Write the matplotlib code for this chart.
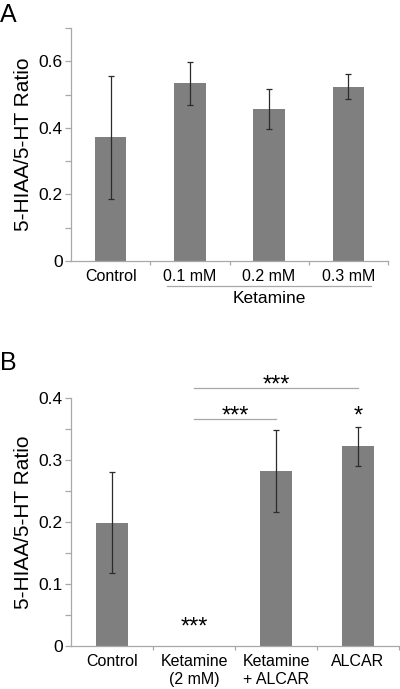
import numpy as np
import matplotlib as mpl
mpl.use('Agg')
import matplotlib.pyplot as plt
from matplotlib.ticker import FixedLocator, FuncFormatter

mpl.rcParams['font.family'] = ['Liberation Sans', 'DejaVu Sans']
mpl.rcParams['text.color'] = 'black'

# panel A data
a_labels = ['Control', '0.1 mM', '0.2 mM', '0.3 mM']
a_means = [0.372, 0.534, 0.457, 0.524]
a_errs = [0.185, 0.065, 0.059, 0.038]

# panel B data
b_labels = ['Control', 'Ketamine\n(2 mM)', 'Ketamine\n+ ALCAR', 'ALCAR']
b_means = [0.199, 0.0, 0.282, 0.322]
b_errs = [0.081, 0.0, 0.066, 0.031]

BAR = '#7f7f7f'
SPINE = '#a8a8a8'
ERR = '#2b2b2b'


def style_axes(ax):
    for s in ['top', 'right']:
        ax.spines[s].set_visible(False)
    for s in ['left', 'bottom']:
        ax.spines[s].set_color(SPINE)
        ax.spines[s].set_linewidth(0.9)
    ax.tick_params(axis='y', which='both', direction='out', length=4,
                   width=0.9, color=SPINE, labelsize=12.5, pad=2)
    ax.tick_params(axis='x', which='major', length=0, labelsize=11.5, pad=6)
    ax.tick_params(axis='x', which='minor', direction='out', length=3,
                   width=0.9, color=SPINE)
    ax.yaxis.set_major_formatter(FuncFormatter(
        lambda v, p: '0' if v == 0 else '%.1f' % v))


def draw_bars(ax, labels, means, errs):
    x = np.arange(len(labels))
    ax.bar(x, means, width=0.4, color=BAR, zorder=2)
    for xi, m, e in zip(x, means, errs):
        if e > 0:
            ax.errorbar(xi, m, yerr=e, fmt='none', ecolor=ERR,
                        elinewidth=0.9, capsize=2.5, capthick=0.9, zorder=3)
    ax.set_xticks(x)
    ax.set_xticklabels(labels)
    ax.xaxis.set_minor_locator(FixedLocator(np.arange(len(labels)) + 0.5))
    ax.set_xlim(-0.5, len(labels) - 0.5)


fig = plt.figure(figsize=(4.0, 6.89), dpi=100)

# ---- panel A
axA = fig.add_axes([0.1775, 0.6212, 0.7925, 0.3382])
draw_bars(axA, a_labels, a_means, a_errs)
axA.set_ylim(0, 0.7)
axA.yaxis.set_major_locator(FixedLocator([0, 0.2, 0.4, 0.6]))
axA.yaxis.set_minor_locator(FixedLocator([0.1, 0.3, 0.5, 0.7]))
style_axes(axA)
axA.set_ylabel('5-HIAA/5-HT Ratio', fontsize=15, labelpad=4)

trA = mpl.transforms.blended_transform_factory(axA.transData, axA.transAxes)
axA.plot([0.71, 3.29], [-0.107, -0.107], color=SPINE, lw=0.9,
         transform=trA, clip_on=False)
axA.text(2.0, -0.16, 'Ketamine', transform=trA, ha='center', va='center',
         fontsize=12.5)
fig.text(0.0, 0.978, 'A', fontsize=18, ha='left', va='center')

# ---- panel B
axB = fig.add_axes([0.1775, 0.0624, 0.82, 0.36])
draw_bars(axB, b_labels, b_means, b_errs)
axB.set_ylim(0, 0.4)
axB.yaxis.set_major_locator(FixedLocator([0, 0.1, 0.2, 0.3, 0.4]))
axB.yaxis.set_minor_locator(FixedLocator([0.05, 0.15, 0.25, 0.35]))
style_axes(axB)
axB.set_ylabel('5-HIAA/5-HT Ratio', fontsize=15, labelpad=4)

# significance brackets
axB.plot([1, 2], [0.366, 0.366], color=SPINE, lw=0.9, clip_on=False)
axB.plot([1, 3], [0.416, 0.416], color=SPINE, lw=0.9, clip_on=False)
axB.text(1.5, 0.370, '***', ha='center', va='center', fontsize=17)
axB.text(2.0, 0.420, '***', ha='center', va='center', fontsize=17)
axB.text(3.0, 0.370, '*', ha='center', va='center', fontsize=17)
axB.text(1.0, 0.030, '***', ha='center', va='center', fontsize=17)
fig.text(0.0, 0.473, 'B', fontsize=18, ha='left', va='center')

fig.savefig('out.png', dpi=100)
